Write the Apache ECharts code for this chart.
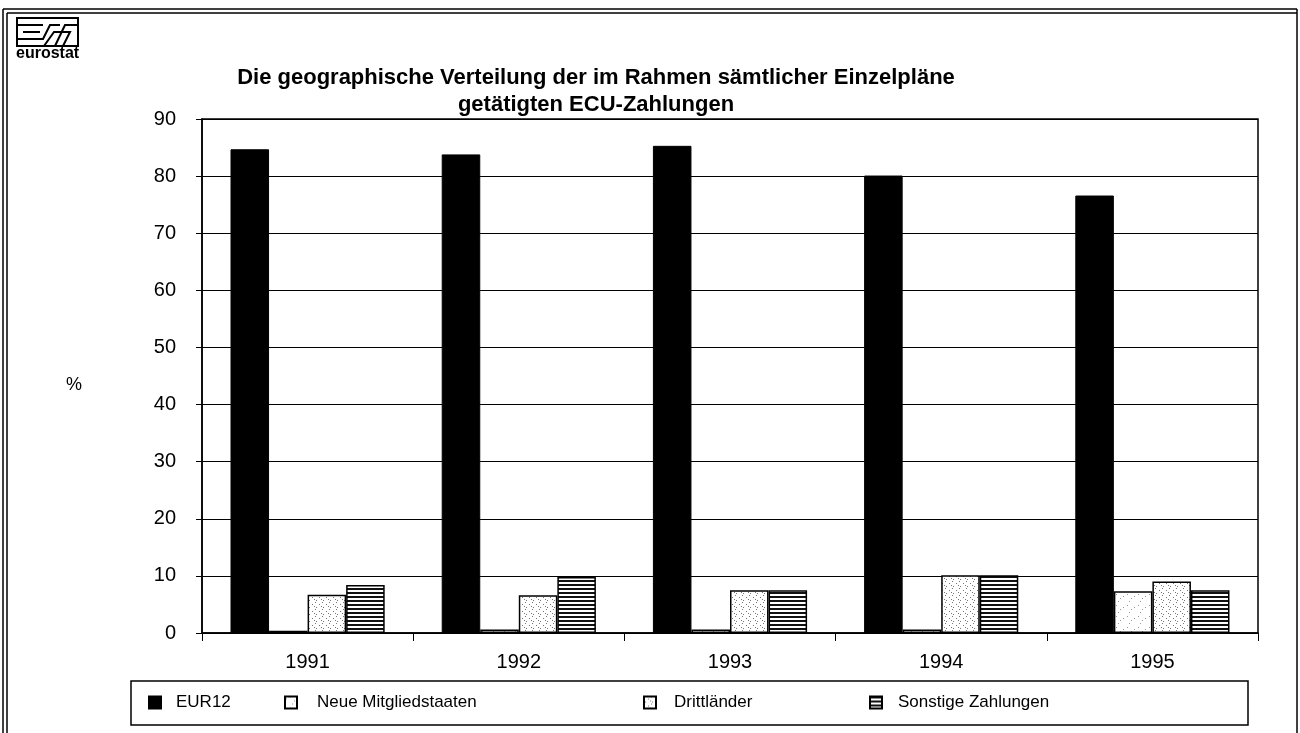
<!DOCTYPE html>
<html>
<head>
<meta charset="utf-8">
<script src="https://cdn.jsdelivr.net/npm/echarts@6/dist/echarts.min.js"></script>
<style>
  html, body { margin: 0; padding: 0; background: #fff; }
  #chart { width: 1300px; height: 733px; }
</style>
</head>
<body>
<div id="chart"></div>
<script>
// values (percent)
const years = ['1991', '1992', '1993', '1994', '1995']
const eur12 = [84.7, 83.8, 85.3, 80.1, 76.6]
const neueMitglieder = [0.4, 0.6, 0.6, 0.6, 7.3]
const drittlaender = [6.7, 6.6, 7.5, 10.1, 9.0]
const sonstige = [8.4, 9.8, 7.5, 10.1, 7.5]
const yTicks = { min: 0, max: 90, step: 10 }

const FONT = 'Liberation Sans, Arial, sans-serif'

// stipple and stripe fills, like the old grey-scale print
function dots (size, pts, ink) {
  let c = document.createElement('canvas')
  c.width = size
  c.height = size
  let g = c.getContext('2d')
  g.fillStyle = '#fff'
  g.fillRect(0, 0, size, size)
  g.fillStyle = ink
  pts.forEach(p => g.fillRect(p[0], p[1], 1, 1))
  return c
}
function stripes () {
  let c = document.createElement('canvas')
  c.width = 4
  c.height = 4
  let g = c.getContext('2d')
  g.fillStyle = '#fff'
  g.fillRect(0, 0, 4, 4)
  g.fillStyle = '#111'
  g.fillRect(0, 0, 4, 2)
  return c
}
const lightDots = dots(11, [[1, 2], [7, 7], [5, 0], [9, 4]], '#999')
const denseDots = dots(7, [[0, 0], [4, 2], [1, 5], [6, 4]], '#777')

let chart = echarts.init(document.getElementById('chart'))
chart.setOption({
  backgroundColor: '#fff',
  animation: false,
  textStyle: { fontFamily: FONT },
  title: {
    text: 'Die geographische Verteilung der im Rahmen sämtlicher Einzelpläne\ngetätigten ECU-Zahlungen',
    left: 591,
    top: 59,
    textAlign: 'center',
    textStyle: { fontFamily: FONT, fontSize: 22, fontWeight: 'bold', color: '#000', lineHeight: 27 }
  },
  legend: [
    ['EUR12', 148, 10],
    ['Neue Mitgliedstaaten', 284, 15],
    ['Drittländer', 643, 13],
    ['Sonstige Zahlungen', 869, 11]
  ].map(l => ({
    data: [l[0]],
    left: l[1],
    top: 694,
    padding: 0,
    icon: 'rect',
    itemWidth: 12,
    itemHeight: 12,
    textStyle: { fontFamily: FONT, fontSize: 17, color: '#000', padding: [0, 0, 0, l[2]] }
  })),
  grid: {
    left: 202,
    right: 42,
    top: 119,
    bottom: 100,
    show: true,
    borderColor: '#000',
    borderWidth: 1.5
  },
  xAxis: {
    type: 'category',
    data: years,
    axisLine: { lineStyle: { color: '#000', width: 1.5 } },
    axisTick: { show: true, length: 8, lineStyle: { color: '#000' } },
    axisLabel: { color: '#000', fontSize: 20, margin: 19 }
  },
  yAxis: {
    type: 'value',
    min: yTicks.min,
    max: yTicks.max,
    interval: yTicks.step,
    axisLine: { show: true, lineStyle: { color: '#000', width: 1.5 } },
    axisTick: { show: true, length: 6, lineStyle: { color: '#000' } },
    axisLabel: { color: '#000', fontSize: 20, margin: 26 },
    splitLine: { lineStyle: { color: '#000', width: 1.2 } }
  },
  series: [
    {
      name: 'EUR12',
      type: 'bar',
      data: eur12,
      barGap: 0,
      barCategoryGap: '27%',
      itemStyle: { color: '#000', borderColor: '#000', borderWidth: 1 }
    },
    {
      name: 'Neue Mitgliedstaaten',
      type: 'bar',
      data: neueMitglieder,
      itemStyle: { color: { image: lightDots, repeat: 'repeat' }, borderColor: '#000', borderWidth: 1.5 }
    },
    {
      name: 'Drittländer',
      type: 'bar',
      data: drittlaender,
      itemStyle: { color: { image: denseDots, repeat: 'repeat' }, borderColor: '#000', borderWidth: 1.5 }
    },
    {
      name: 'Sonstige Zahlungen',
      type: 'bar',
      data: sonstige,
      itemStyle: { color: { image: stripes(), repeat: 'repeat' }, borderColor: '#000', borderWidth: 1.5 }
    }
  ],
  graphic: [
    // page frame
    { type: 'line', shape: { x1: 3, y1: 9, x2: 1297, y2: 9 }, style: { stroke: '#000', lineWidth: 1.5 } },
    { type: 'line', shape: { x1: 7, y1: 13, x2: 1297, y2: 13 }, style: { stroke: '#000', lineWidth: 1.5 } },
    { type: 'line', shape: { x1: 3, y1: 9, x2: 3, y2: 733 }, style: { stroke: '#000', lineWidth: 1.5 } },
    { type: 'line', shape: { x1: 7, y1: 13, x2: 7, y2: 733 }, style: { stroke: '#000', lineWidth: 1.5 } },
    { type: 'line', shape: { x1: 1297, y1: 9, x2: 1297, y2: 733 }, style: { stroke: '#000', lineWidth: 1.5 } },
    // y axis unit
    { type: 'text', left: 66, top: 376, style: { text: '%', font: '18px ' + FONT, fill: '#000' } },
    // legend box
    { type: 'rect', shape: { x: 131, y: 681, width: 1117, height: 44 }, style: { fill: 'none', stroke: '#000', lineWidth: 1.5 }, z: -1 },
    // eurostat logo
    { type: 'rect', shape: { x: 17, y: 18, width: 61, height: 28 }, style: { fill: 'none', stroke: '#000', lineWidth: 2 } },
    { type: 'polyline', shape: { points: [[17, 25], [43, 25]] }, style: { stroke: '#000', lineWidth: 2, fill: 'none' } },
    { type: 'polyline', shape: { points: [[23, 32], [40, 32]] }, style: { stroke: '#000', lineWidth: 2, fill: 'none' } },
    { type: 'polyline', shape: { points: [[17, 39], [43, 39], [50, 25], [60, 25]] }, style: { stroke: '#000', lineWidth: 2, fill: 'none' } },
    { type: 'polyline', shape: { points: [[55, 46], [65, 25], [78, 25]] }, style: { stroke: '#000', lineWidth: 2, fill: 'none' } },
    { type: 'polyline', shape: { points: [[44, 46], [54, 32], [70, 32], [63, 46]] }, style: { stroke: '#000', lineWidth: 2, fill: 'none' } },
    { type: 'text', left: 16, top: 46, style: { text: 'eurostat', font: 'bold 16px ' + FONT, fill: '#000' } }
  ]
})
</script>
</body>
</html>
